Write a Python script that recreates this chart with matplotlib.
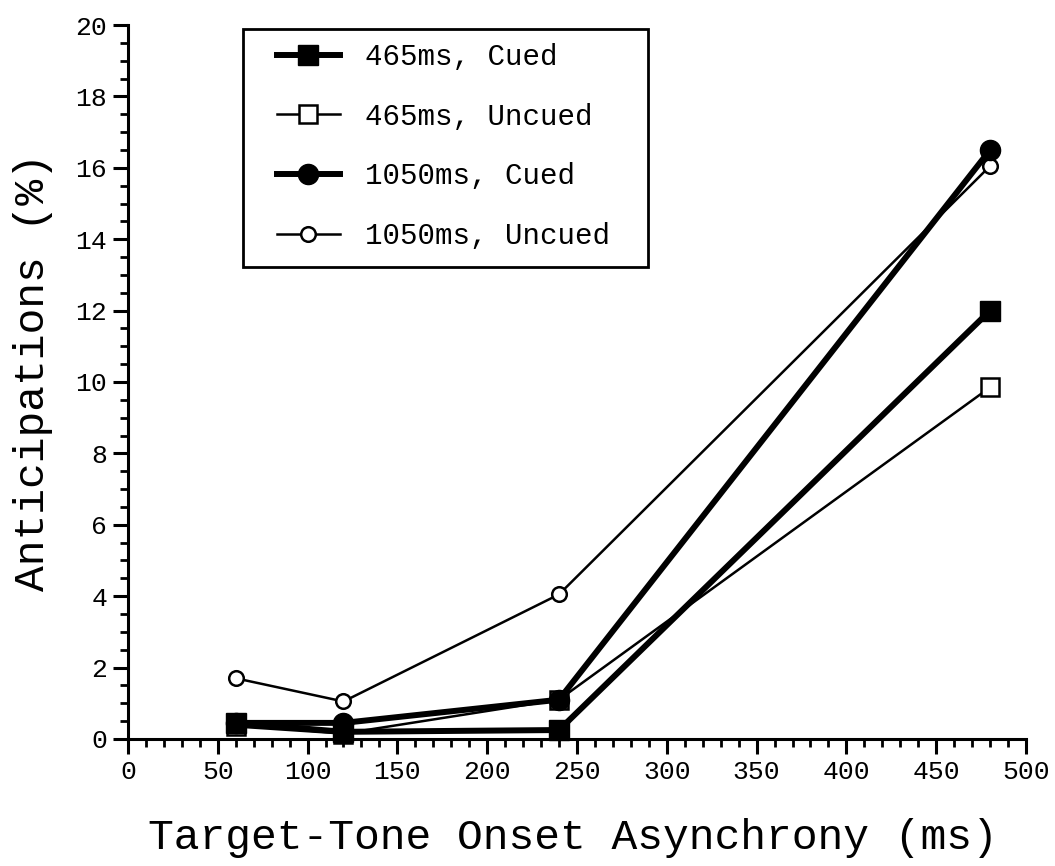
import matplotlib
matplotlib.use("Agg")
import matplotlib.pyplot as plt
from matplotlib.patches import Rectangle
from matplotlib.ticker import MultipleLocator

# Target-tone onset asynchrony (ms)
soa = [60, 120, 240, 480]

# Anticipation rates (%) per foreperiod / cue condition
fp465_cued = [0.45, 0.2, 0.25, 12.0]
fp465_uncued = [0.35, 0.15, 1.1, 9.85]
fp1050_cued = [0.45, 0.45, 1.1, 16.5]
fp1050_uncued = [1.7, 1.05, 4.05, 16.05]

labels = ["465ms, Cued", "465ms, Uncued", "1050ms, Cued", "1050ms, Uncued"]

x_ticks = [0, 50, 100, 150, 200, 250, 300, 350, 400, 450, 500]
y_ticks = [0, 2, 4, 6, 8, 10, 12, 14, 16, 18, 20]

plt.rcParams["font.family"] = ["Liberation Mono", "DejaVu Sans Mono"]

fig = plt.figure(figsize=(10.55, 8.66), dpi=100)
ax = fig.add_axes([0.1213, 0.1467, 0.8512, 0.8244])

thick = 4.3
thin = 1.8

h2, = ax.plot(soa, fp465_uncued, color="black", lw=thin, marker="s", ms=12.5,
              mfc="white", mec="black", mew=1.8, clip_on=False, zorder=3,
              label=labels[1])
h4, = ax.plot(soa, fp1050_uncued, color="black", lw=thin, marker="o", ms=10.5,
              mfc="white", mec="black", mew=1.8, clip_on=False, zorder=3,
              label=labels[3])
h3, = ax.plot(soa, fp1050_cued, color="black", lw=thick, marker="o", ms=14.5,
              mfc="black", mec="black", clip_on=False, zorder=4,
              label=labels[2])
h1, = ax.plot(soa, fp465_cued, color="black", lw=thick, marker="s", ms=14,
              mfc="black", mec="black", clip_on=False, zorder=5,
              label=labels[0])

ax.set_xlim(0, 500)
ax.set_ylim(0, 20)
ax.set_xticks(x_ticks)
ax.set_yticks(y_ticks)
ax.xaxis.set_minor_locator(MultipleLocator(10))
ax.yaxis.set_minor_locator(MultipleLocator(0.5))

for side in ("top", "right"):
    ax.spines[side].set_visible(False)
for side in ("left", "bottom"):
    ax.spines[side].set_linewidth(2.2)

ax.tick_params(axis="both", which="major", direction="out", length=11,
               width=2.2, labelsize=19, pad=4)
ax.tick_params(axis="both", which="minor", direction="out", length=6,
               width=2.0)

ax.set_xlabel("Target-Tone Onset Asynchrony (ms)", fontsize=31)
ax.xaxis.set_label_coords(0.495, -0.139)
ax.xaxis.label.set_va("center")
ax.set_ylabel("Anticipations (%)", fontsize=31)
ax.yaxis.set_label_coords(-0.106, 0.514)
ax.yaxis.label.set_va("center")

# Legend entries without their own frame; a plain box is drawn around them
leg = ax.legend(handles=[h1, h2, h3, h4], loc="upper left",
                bbox_to_anchor=(0.166, 0.975), fontsize=21, frameon=False,
                handlelength=2.15, handletextpad=0.86, labelspacing=1.09,
                borderpad=0.0, borderaxespad=0.0)
leg.set_zorder(10)
box = Rectangle((0.128, 0.661), 0.579 - 0.128, 0.9944 - 0.661,
                transform=ax.transAxes, facecolor="white", edgecolor="black",
                linewidth=2.0, zorder=9, clip_on=False)
ax.add_patch(box)

fig.savefig("out.png", dpi=100, facecolor="white")
